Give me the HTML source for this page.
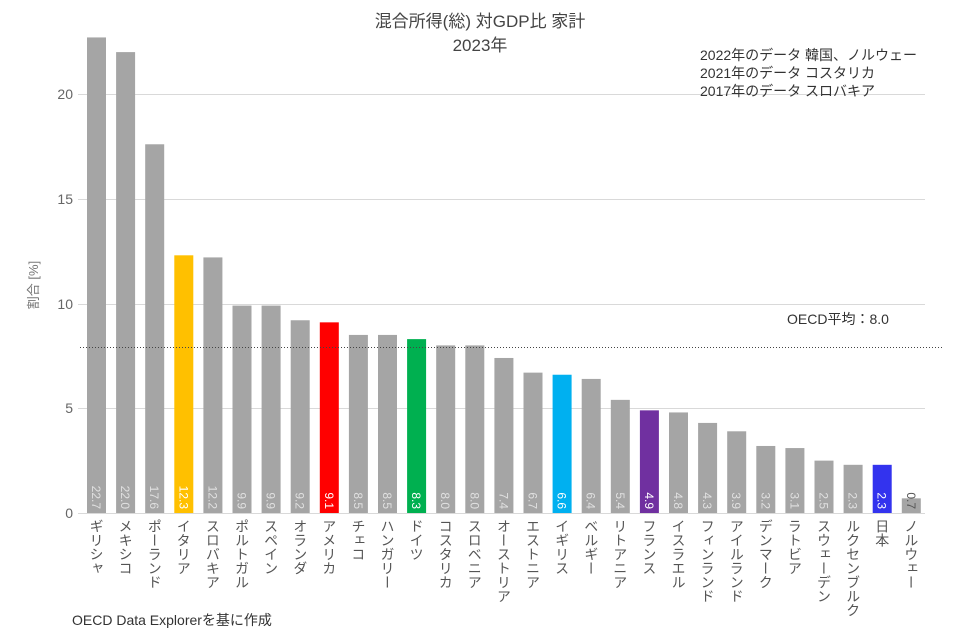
<!DOCTYPE html>
<html><head><meta charset="utf-8"><style>
body{margin:0;background:#fff;width:975px;height:636px;overflow:hidden;position:relative;font-family:"Liberation Sans","Noto Sans CJK JP",sans-serif}
.cat{position:absolute;top:519px;writing-mode:vertical-rl;font-size:14px;color:#555;line-height:14px;width:14px}
</style></head><body>
<svg width="975" height="636" style="position:absolute;left:0;top:0" font-family="Liberation Sans, Noto Sans CJK JP, sans-serif">
<g stroke="#d9d9d9" stroke-width="1">
<line x1="78" x2="925" y1="94.5" y2="94.5"/>
<line x1="78" x2="925" y1="199.5" y2="199.5"/>
<line x1="78" x2="925" y1="304.5" y2="304.5"/>
<line x1="78" x2="925" y1="408.5" y2="408.5"/>
<line x1="78" x2="925" y1="513.5" y2="513.5"/>
</g>
<g fill="#666" font-size="14" text-anchor="end">
<text x="73" y="99">20</text><text x="73" y="204">15</text><text x="73" y="309">10</text><text x="73" y="413">5</text><text x="73" y="518">0</text>
</g>
<text transform="translate(38,285) rotate(-90)" font-size="13" fill="#777" text-anchor="middle">割合 [%]</text>
<text x="480" y="27" font-size="17" fill="#444" text-anchor="middle">混合所得(総) 対GDP比 家計</text>
<text x="480" y="51" font-size="17" fill="#444" text-anchor="middle">2023年</text>
<g font-size="14" fill="#333">
<text x="700" y="60">2022年のデータ 韓国、ノルウェー</text>
<text x="700" y="78">2021年のデータ コスタリカ</text>
<text x="700" y="96">2017年のデータ スロバキア</text>
<text x="787" y="324">OECD平均：8.0</text>
</g>
<text x="72" y="625" font-size="14" fill="#333">OECD Data Explorerを基に作成</text>
<g id="bars"></g>
<line x1="80" x2="943" y1="347.5" y2="347.5" stroke="#444" stroke-width="1" stroke-dasharray="1,2"/>
</svg>
<div id="cats"></div>
<script>
var v=[22.7,22.0,17.6,12.3,12.2,9.9,9.9,9.2,9.1,8.5,8.5,8.3,8.0,8.0,7.4,6.7,6.6,6.4,5.4,4.9,4.8,4.3,3.9,3.2,3.1,2.5,2.3,2.3,0.7];
var n=["ギリシャ","メキシコ","ポーランド","イタリア","スロバキア","ポルトガル","スペイン","オランダ","アメリカ","チェコ","ハンガリー","ドイツ","コスタリカ","スロベニア","オーストリア","エストニア","イギリス","ベルギー","リトアニア","フランス","イスラエル","フィンランド","アイルランド","デンマーク","ラトビア","スウェーデン","ルクセンブルク","日本","ノルウェー"];
var c={3:"#ffc000",8:"#ff0000",11:"#00b050",16:"#00b0f0",19:"#7030a0",27:"#3333ee"};
var s="",h="";
for(var i=0;i<v.length;i++){
 var cx=96.5+i*29.1, hh=v[i]*20.95, y=513-hh;
 s+='<rect x="'+(cx-9.5)+'" y="'+y+'" width="19" height="'+hh+'" fill="'+(c[i]||"#a5a5a5")+'"/>';
 var col=i==28?"#555":(c[i]?"#fff":"#e0e0e0");
 s+='<text transform="translate('+(cx-4.5)+',509) rotate(90)" text-anchor="end" font-size="12" fill="'+col+'">'+v[i].toFixed(1)+'</text>';
 h+='<div class="cat" style="left:'+(cx-7)+'px">'+n[i]+'</div>';
}
document.getElementById("bars").innerHTML=s;
document.getElementById("cats").innerHTML=h;
</script>
</body></html>
